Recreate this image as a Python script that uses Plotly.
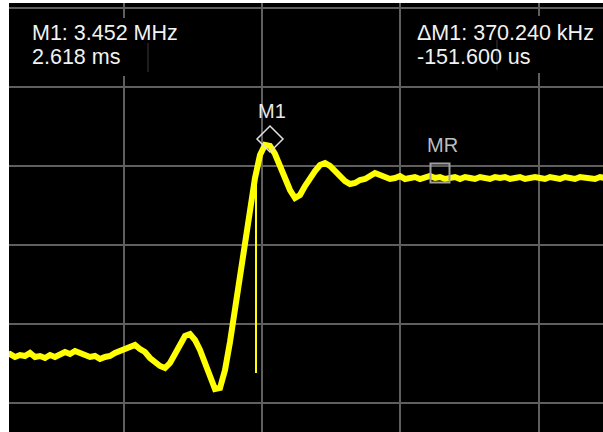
#####################################################
######   FREQUENCY TRANSIENT WITH M1 / MR MARKERS   ########

import plotly.graph_objects as go

# Time base of the capture (us) and measured frequency (MHz)
time_us = [2379.5, 2384.0, 2388.5, 2393.0, 2397.5, 2402.0, 2406.5, 2411.0, 2415.5, 2420.0,
           2424.5, 2429.0, 2433.5, 2438.0, 2442.5, 2447.0, 2451.5, 2456.0, 2460.5, 2465.0,
           2469.5, 2474.0, 2478.5, 2483.0, 2487.5, 2492.0, 2496.5, 2501.0, 2505.5, 2510.0,
           2514.5, 2519.0, 2523.5, 2528.0, 2532.5, 2537.0, 2541.5, 2546.0, 2550.5, 2555.0,
           2559.5, 2564.0, 2568.5, 2573.0, 2577.5, 2582.0, 2586.5, 2591.0, 2595.5, 2600.0,
           2604.5, 2609.0, 2613.5, 2618.0, 2622.5, 2627.0, 2631.5, 2636.0, 2640.5, 2645.0,
           2649.5, 2654.0, 2658.5, 2663.0, 2667.5, 2672.0, 2676.5, 2681.0, 2685.5, 2690.0,
           2694.5, 2699.0, 2703.5, 2708.0, 2712.5, 2717.0, 2721.5, 2726.0, 2730.5, 2735.0,
           2739.5, 2744.0, 2748.5, 2753.0, 2757.5, 2762.0, 2766.5, 2771.0, 2775.5, 2780.0,
           2784.5, 2789.0, 2793.5, 2798.0, 2802.5, 2807.0, 2811.5, 2816.0, 2820.5, 2825.0,
           2829.5, 2834.0, 2838.5, 2843.0, 2847.5, 2852.0, 2856.5, 2861.0, 2865.5, 2870.0,
           2874.5, 2879.0, 2883.5, 2888.0, 2892.5, 2897.0, 2901.5, 2906.0, 2910.5, 2915.0,
           2919.5]

freq_mhz = [0.827, 0.8395, 0.802, 0.827, 0.8145, 0.852, 0.802, 0.8145, 0.7895, 0.827,
            0.802, 0.8395, 0.8645, 0.8395, 0.877, 0.852, 0.827, 0.802, 0.8145, 0.777,
            0.802, 0.8145, 0.852, 0.877, 0.9145, 0.927, 0.952, 0.902, 0.8645, 0.7895,
            0.7395, 0.6895, 0.6645, 0.727, 0.8395, 0.9645, 1.0645, 1.0895, 1.0145, 0.8895,
            0.7395, 0.5645, 0.402, 0.4145, 0.6395, 0.9895, 1.3895, 1.7895, 2.202, 2.677,
            3.0395, 3.327, 3.452, 3.4395, 3.3395, 3.1895, 3.0395, 2.8895, 2.7895, 2.827,
            2.9395, 3.0395, 3.127, 3.202, 3.227, 3.1895, 3.127, 3.052, 3.002, 2.9645,
            2.977, 3.0145, 3.027, 3.0645, 3.102, 3.077, 3.052, 3.027, 3.0395, 3.0645,
            3.027, 3.0395, 3.052, 3.027, 3.0395, 3.0645, 3.0395, 3.052, 3.027, 3.0395,
            3.052, 3.027, 3.052, 3.0395, 3.027, 3.052, 3.0395, 3.027, 3.052, 3.0395,
            3.052, 3.027, 3.0395, 3.052, 3.027, 3.0395, 3.052, 3.0395, 3.027, 3.052,
            3.0395, 3.027, 3.052, 3.0395, 3.027, 3.052, 3.0395, 3.0395, 3.027, 3.052,
            3.0395]

# Single-sample glitch on the rising edge
glitch_t = [2605.4, 2605.4]
glitch_f = [3.1645, 0.602]

# Marker positions and labels
marker_names = ['M1', 'MR']
marker_t = [2618.0, 2771.0]
marker_f = [3.527, 3.102]

# Readout text
m1_readout = ['M1: 3.452 MHz', '2.618 ms']
delta_readout = ['\u0394M1: 370.240 kHz', '-151.600 us']

FONT = 'Arial, Liberation Sans, sans-serif'

fig = go.Figure()

# Main trace
fig.add_trace(go.Scatter(
    x=time_us, y=freq_mhz, mode='lines',
    line=dict(color='#ffff00', width=6),
    showlegend=False, hoverinfo='skip'
))

# Glitch
fig.add_trace(go.Scatter(
    x=glitch_t, y=glitch_f, mode='lines',
    line=dict(color='#ffff00', width=2),
    showlegend=False, hoverinfo='skip'
))

# M1 diamond
fig.add_trace(go.Scatter(
    x=marker_t[:1], y=marker_f[:1], mode='markers',
    marker=dict(symbol='diamond-open', size=20, color='#e0e0e0', line=dict(width=1.5)),
    showlegend=False, hoverinfo='skip'
))

# MR square
fig.add_trace(go.Scatter(
    x=marker_t[1:], y=marker_f[1:], mode='markers',
    marker=dict(symbol='square-open', size=19, color='#a0a0a0', line=dict(width=2)),
    showlegend=False, hoverinfo='skip'
))

# Marker labels
label_colors = ['#e8e8e8', '#bdbdbd']
for name, t, f, c in zip(marker_names, marker_t, marker_f, label_colors):
    fig.add_annotation(x=t, y=f, text=name, showarrow=False, yshift=28, xshift=2,
                       font=dict(family=FONT, size=20, color=c))

# Black boxes behind the readouts (they hide the grid)
fig.add_shape(type='rect', xref='paper', yref='paper', x0=0.0286, x1=0.298, y0=0.8298, y1=0.965,
              fillcolor='black', line=dict(width=0), layer='above')
fig.add_shape(type='rect', xref='paper', yref='paper', x0=0.678, x1=1.0, y0=0.8368, y1=0.9697,
              fillcolor='black', line=dict(width=0), layer='above')
fig.add_shape(type='line', xref='paper', yref='paper', x0=0.234, x1=0.234, y0=0.839, y1=0.907,
              line=dict(color='#3a3a3a', width=1), layer='above')
fig.add_shape(type='line', xref='paper', yref='paper', x0=0.8215, x1=0.8215, y0=0.844, y1=0.914,
              line=dict(color='#3a3a3a', width=1), layer='above')

# Readouts
for lines, xp in [(m1_readout, 0.037), (delta_readout, 0.686)]:
    for txt, yp in zip(lines, [0.929, 0.874]):
        fig.add_annotation(x=xp, y=yp, xref='paper', yref='paper', text=txt, showarrow=False,
                           xanchor='left', yanchor='middle', borderpad=0,
                           font=dict(family=FONT, size=21.5, color='#f2f2f2'))

fig.update_layout(
    width=603, height=432,
    margin=dict(l=9, r=0, t=3, b=0),
    paper_bgcolor='white', plot_bgcolor='black',
    xaxis=dict(range=[2383.1, 2917.7], showgrid=True, gridcolor='#5f5f5f', gridwidth=2,
               tick0=2486.6, dtick=124.4, showticklabels=False, ticks='', zeroline=False,
               showline=False),
    yaxis=dict(range=[-0.1355, 5.227], showgrid=True, gridcolor='#5f5f5f', gridwidth=2,
               tick0=0.2333, dtick=0.9869, showticklabels=False, ticks='', zeroline=False,
               showline=False),
)

# Drop the default page margin so the figure sits at the window corner
fig.write_html('out.html', config={'displayModeBar': False},
               post_script="document.body.style.margin='0';")
